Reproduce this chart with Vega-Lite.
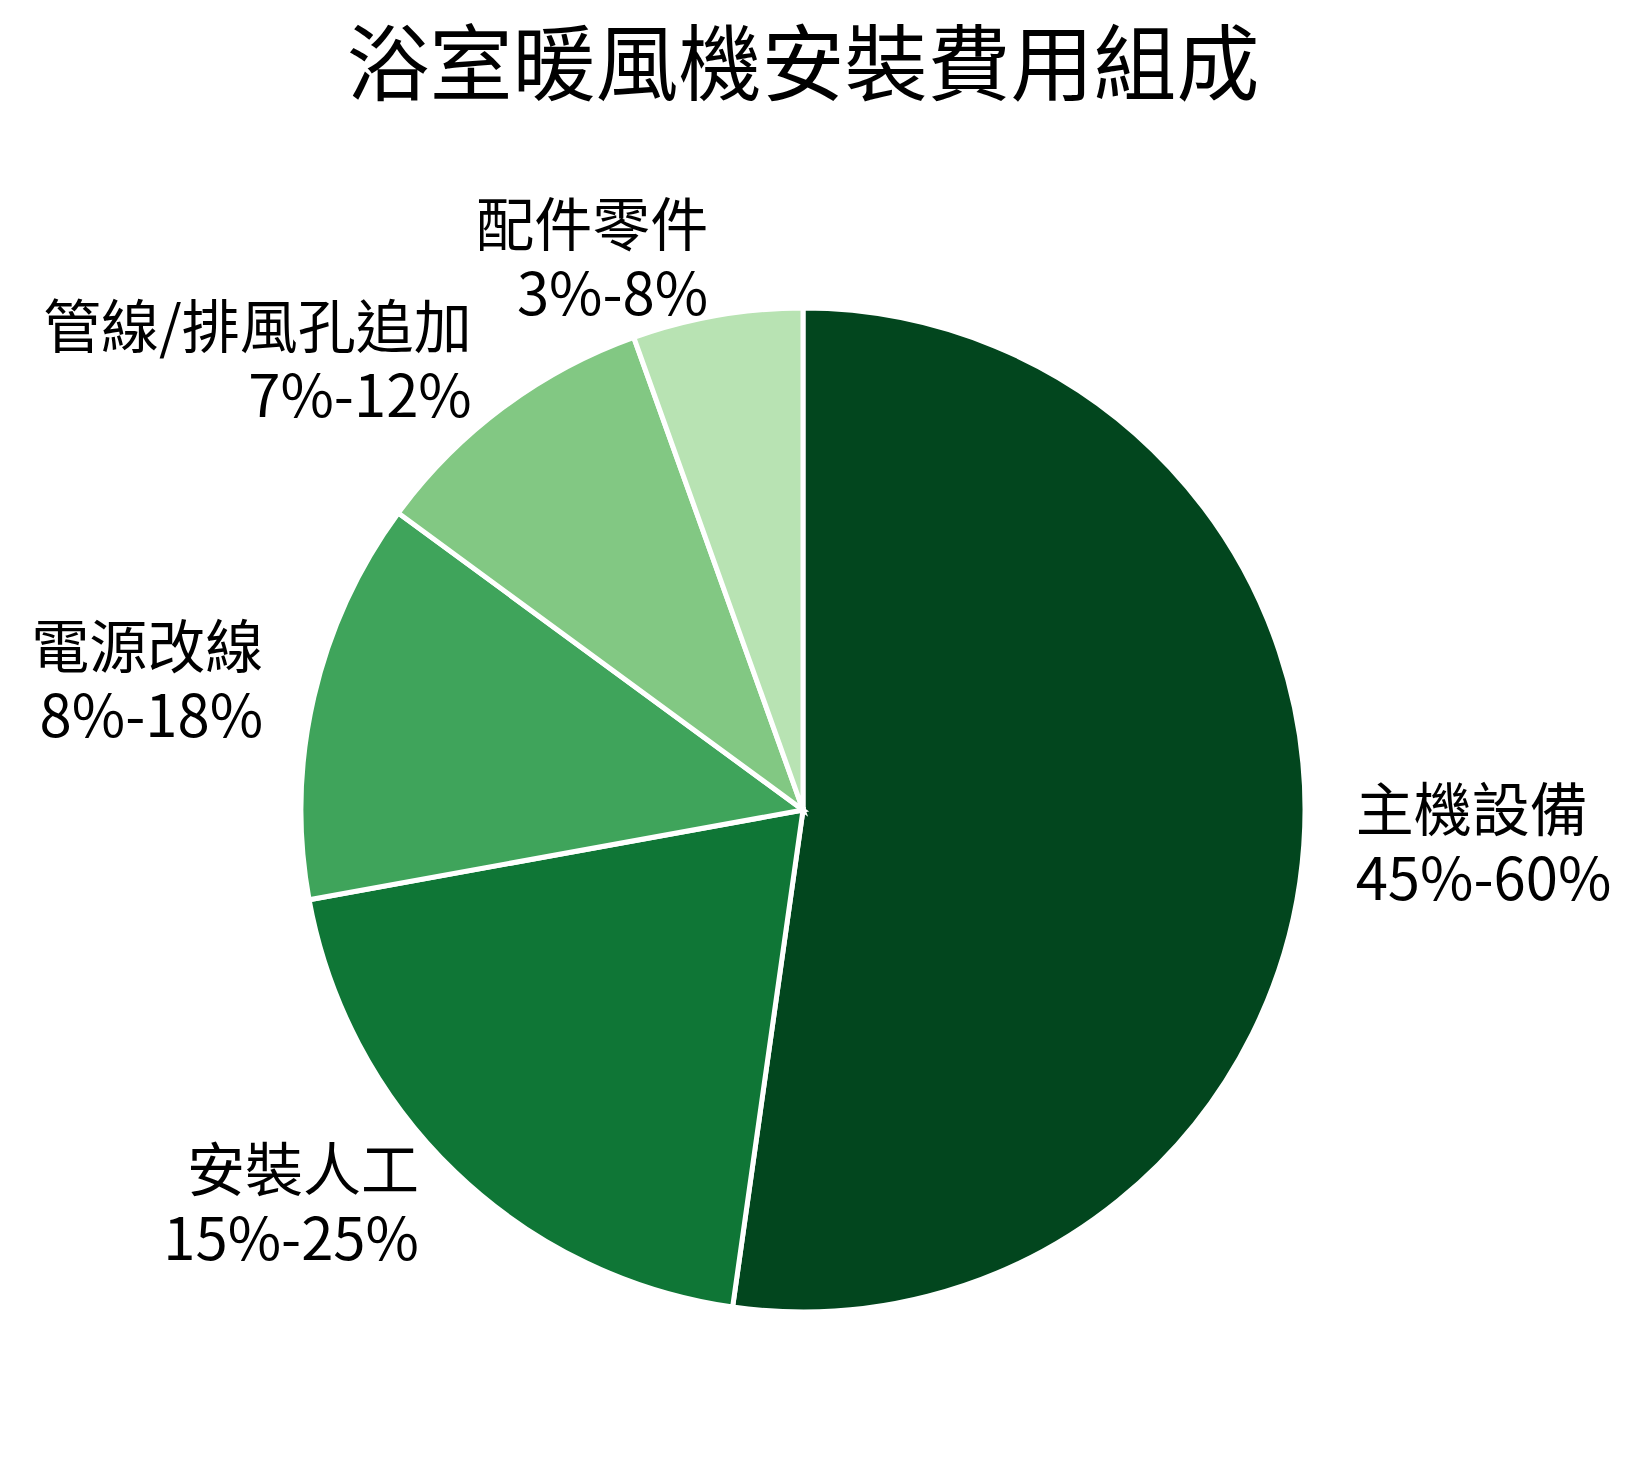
{
  "$schema": "https://vega.github.io/schema/vega-lite/v6.json",
  "width": 1606,
  "height": 1300,
  "padding": {"top": 28, "left": 0, "right": 35, "bottom": 0},
  "background": "white",
  "config": {
    "view": {"stroke": "transparent"},
    "font": "Noto Sans CJK TC",
    "title": {"fontSize": 83, "fontWeight": "normal", "color": "#000000", "anchor": "middle", "offset": 49}
  },
  "title": "浴室暖風機安裝費用組成",
  "data": {
    "values": [
      {"order": 1, "name": "主機設備", "range": "45%-60%", "label": "主機設備\n45%-60%", "value": 52.5},
      {"order": 2, "name": "安裝人工", "range": "15%-25%", "label": "安裝人工\n15%-25%", "value": 20},
      {"order": 3, "name": "電源改線", "range": "8%-18%", "label": "電源改線\n8%-18%", "value": 13},
      {"order": 4, "name": "管線/排風孔追加", "range": "7%-12%", "label": "管線/排風孔追加\n7%-12%", "value": 9.5},
      {"order": 5, "name": "配件零件", "range": "3%-8%", "label": "配件零件\n3%-8%", "value": 5.5}
    ]
  },
  "encoding": {
    "theta": {"field": "value", "type": "quantitative", "stack": true},
    "order": {"field": "order", "type": "quantitative", "sort": "ascending"}
  },
  "layer": [
    {
      "mark": {"type": "arc", "outerRadius": 502, "stroke": "white", "strokeWidth": 5},
      "encoding": {
        "color": {
          "field": "name",
          "type": "nominal",
          "legend": null,
          "scale": {
            "domain": ["主機設備", "安裝人工", "電源改線", "管線/排風孔追加", "配件零件"],
            "range": ["#02461e", "#0f7636", "#3fa45b", "#82c883", "#b8e3b3"]
          }
        }
      }
    },
    {
      "mark": {
        "type": "text",
        "radius": 554,
        "fontSize": 58,
        "lineBreak": "\n",
        "lineHeight": 69,
        "baseline": "middle",
        "dy": -35,
        "color": "#000000",
        "align": {"expr": "datum.order == 1 ? 'left' : 'right'"}
      },
      "encoding": {
        "text": {"field": "label", "type": "nominal"}
      }
    }
  ]
}
